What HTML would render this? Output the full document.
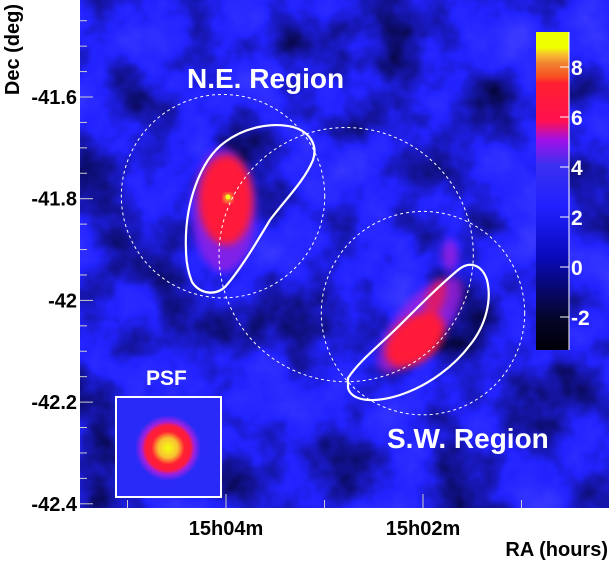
<!DOCTYPE html>
<html><head><meta charset="utf-8"><style>
html,body{margin:0;padding:0;background:#fff;}
svg{display:block;font-family:"Liberation Sans",sans-serif;font-weight:bold;}
</style></head><body>
<svg id="chart" width="609" height="561" viewBox="0 0 609 561">
<defs>
<filter id="noise" x="0" y="0" width="100%" height="100%" color-interpolation-filters="sRGB">
<feTurbulence type="fractalNoise" baseFrequency="0.014" numOctaves="4" seed="7"/>
<feColorMatrix type="matrix" values="0.3 0 0 0 -0.03  0.3 0 0 0 -0.03  2.0 0 0 0 -0.1  0 0 0 0 1"/>
</filter>
<filter id="blur4" color-interpolation-filters="sRGB"><feGaussianBlur stdDeviation="4"/></filter>
<filter id="blur2" color-interpolation-filters="sRGB"><feGaussianBlur stdDeviation="2"/></filter>
<radialGradient id="psfg">
<stop offset="0" stop-color="#f4ff10"/><stop offset="0.3" stop-color="#f8c030"/>
<stop offset="0.5" stop-color="#ff2030"/><stop offset="0.68" stop-color="#ff1a40"/>
<stop offset="0.8" stop-color="#a020e0"/><stop offset="1" stop-color="#2a2af8"/>
</radialGradient>
<linearGradient id="cbar" x1="0" y1="1" x2="0" y2="0">
<stop offset="0" stop-color="#000008"/><stop offset="0.1" stop-color="#05052a"/>
<stop offset="0.3" stop-color="#0a0ac0"/><stop offset="0.45" stop-color="#2020ff"/>
<stop offset="0.58" stop-color="#3a30f0"/><stop offset="0.66" stop-color="#a010e8"/>
<stop offset="0.72" stop-color="#ff1050"/><stop offset="0.84" stop-color="#ff2030"/>
<stop offset="0.86" stop-color="#f85020"/><stop offset="0.9" stop-color="#f08030"/>
<stop offset="0.93" stop-color="#f8c030"/><stop offset="0.95" stop-color="#f0ff00"/>
<stop offset="1" stop-color="#f0ff00"/>
</linearGradient>
<clipPath id="mapclip"><rect x="80" y="0" width="529" height="508"/></clipPath>
</defs>
<g clip-path="url(#mapclip)">
<rect x="80" y="0" width="529" height="508" fill="#2020f0"/>
<rect x="80" y="0" width="529" height="508" filter="url(#noise)"/>
<g filter="url(#blur4)">
<ellipse cx="224" cy="210" rx="32" ry="62" fill="#a020e0" opacity="0.75"/>
<ellipse cx="226" cy="200" rx="27" ry="45" fill="#ff1a3a"/>
</g>
<circle cx="228" cy="198" r="5" fill="#f8a030" filter="url(#blur2)"/>
<circle cx="228" cy="197" r="2.5" fill="#f0ff20"/>
<g filter="url(#blur4)">
<ellipse cx="420" cy="325" rx="60" ry="24" transform="rotate(-50 420 325)" fill="#a020e0" opacity="0.8"/>
<ellipse cx="450" cy="255" rx="8" ry="16" fill="#a020e0" opacity="0.8"/>
<ellipse cx="415" cy="340" rx="34" ry="22" transform="rotate(-40 415 340)" fill="#ff1a3a"/>
<ellipse cx="435" cy="300" rx="9" ry="22" transform="rotate(20 435 300)" fill="#ff1a3a" opacity="0.7"/>
</g>
<g id="circles" fill="none" stroke="#fff" stroke-width="1" stroke-dasharray="3,3"></g>
<path fill="none" stroke="#fff" stroke-width="2.2"
 d="M186,250 C184,205 200,160 225,142 C245,127 272,122 293,127 C310,132 318,145 313,160 C305,180 285,200 270,220 C255,245 240,270 225,287 C215,296 200,294 192,282 C188,272 186,262 186,250 Z"/>
<path fill="none" stroke="#fff" stroke-width="2.2"
 d="M348,378 C360,360 380,345 400,325 C420,305 440,285 458,270 C470,260 482,265 487,280 C492,300 486,325 470,345 C455,365 430,385 400,395 C375,403 352,402 348,388 Z"/>
<rect x="116" y="397" width="105" height="100" fill="#2a2af8" stroke="#fff" stroke-width="2"/>
<circle cx="168" cy="448" r="33" fill="url(#psfg)"/>
<text x="146" y="385" fill="#fff" font-size="21">PSF</text>
<text x="187" y="88" fill="#fff" font-size="28">N.E. Region</text>
<text x="387" y="448" fill="#fff" font-size="28">S.W. Region</text>
<g>
<rect x="536" y="32" width="33" height="318" fill="url(#cbar)"/>
<line x1="569" y1="32" x2="569" y2="350" stroke="#fff" stroke-width="1"/>
<g id="cbticks"></g>
</g>
</g>
<g id="axes"></g>
<text x="14" y="4" transform="rotate(-90 14 4)" text-anchor="end" font-size="20" fill="#000" dy="5">Dec (deg)</text>
<text x="608" y="556" text-anchor="end" font-size="20" fill="#000">RA (hours)</text>
</svg>
<script>
const decTicks=[-41.6,-41.8,-42,-42.2,-42.4];
const decLabels=["-41.6","-41.8","-42","-42.2","-42.4"];
const raTicks=[4,2];
const raLabels=["15h04m","15h02m"];
const raMinor=[5,3,1];
const cbTicks=[8,6,4,2,0,-2];
const cbLabels=["8","6","4","2","0","-2"];
const circleRA=[4.03,2.78,2.0];
const circleDec=[-41.795,-41.91,-42.025];
const circleR=[0.2,0.25,0.2];
const NS="http://www.w3.org/2000/svg";
function yDec(d){return 97+(-41.6-d)/0.2*101.7;}
function xRA(m){return 423-(m-2)*98.5;}
function yCb(v){return 267-v*25;}
function mk(tag,attrs,parent){const e=document.createElementNS(NS,tag);for(const k in attrs)e.setAttribute(k,attrs[k]);parent.appendChild(e);return e;}
const ax=document.getElementById('axes');
for(let d=-41.4;d>=-42.42;d-=0.05){const y=yDec(d);const major=Math.abs(Math.round(d*5)-d*5)<1e-6;
 const t=mk('line',{x1:80,x2:major?93:87,y1:y,y2:y,stroke:'#ccc','stroke-width':1},ax);
 
 }
decTicks.forEach((d,i)=>{const t=mk('text',{x:77,y:yDec(d)+7,'text-anchor':'end','font-size':20,fill:'#000'},ax);t.textContent=decLabels[i];
 
 });
raTicks.concat(raMinor).forEach((m,i)=>{const x=xRA(m);const l=mk('line',{x1:x,x2:x,y1:508,y2:i<raTicks.length?494:500,stroke:'#ccc','stroke-width':1},ax);
 
 });
raTicks.forEach((m,i)=>{const t=mk('text',{x:xRA(m),y:535,'text-anchor':'middle','font-size':20,fill:'#000'},ax);t.textContent=raLabels[i];
 
 });
const cb=document.getElementById('cbticks');
cbTicks.forEach((v,i)=>{const y=yCb(v);mk('line',{x1:560,x2:569,y1:y,y2:y,stroke:'#fff','stroke-width':1},cb);
 const t=mk('text',{x:571,y:y+8,'font-size':21,fill:'#fff'},cb);t.textContent=cbLabels[i];
 
 });
const cg=document.getElementById('circles');
circleRA.forEach((m,i)=>{const c=mk('circle',{cx:xRA(m),cy:yDec(circleDec[i]),r:circleR[i]/0.2*101.7},cg);
 
 });
</script>
</body></html>
